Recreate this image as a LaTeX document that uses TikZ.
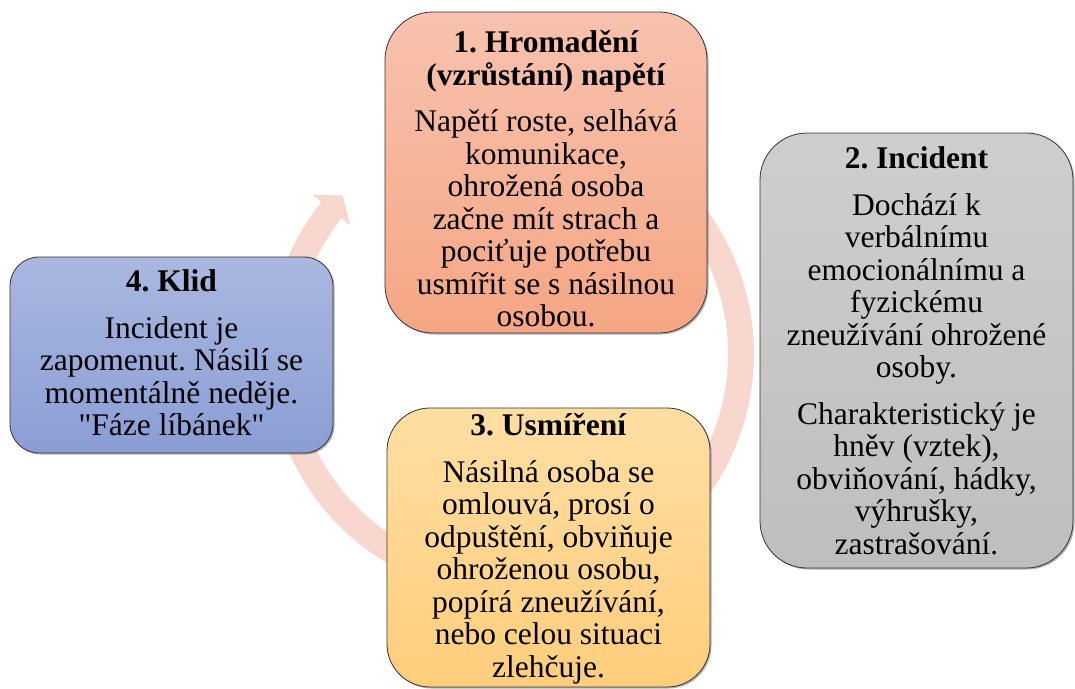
\documentclass[tikz,border=0pt]{standalone}
\usepackage{fontspec}
\setmainfont{Liberation Serif}
\newfontfamily\qfont{Liberation Serif}
\usetikzlibrary{shadows,calc}
\definecolor{arcpink}{RGB}{248,216,206}
\definecolor{oneTop}{RGB}{248,194,174}
\definecolor{oneBot}{RGB}{245,166,132}
\definecolor{twoTop}{RGB}{206,206,206}
\definecolor{twoBot}{RGB}{190,190,190}
\definecolor{thrTop}{RGB}{255,222,163}
\definecolor{thrBot}{RGB}{255,206,124}
\definecolor{fouTop}{RGB}{170,184,224}
\definecolor{fouBot}{RGB}{138,158,213}
\frenchspacing
\begin{document}
\begin{tikzpicture}[x=1pt,y=-1pt,
  box/.style={rectangle, draw=black!80, line width=0.8pt, inner sep=0pt,
    drop shadow={shadow xshift=1.5pt, shadow yshift=-1.5pt, opacity=0.5, fill=black!60}},
  txt/.style={anchor=north, inner sep=0pt, align=center,
    font=\fontsize{31.5}{32.5}\selectfont},
  band/.style={draw=arcpink, line width=26pt}]
\useasboundingbox (0,0) rectangle (1075,688);
\coordinate (c) at (511,354);
% cycle arrows
\draw[band] ($(c)+(-45:230)$) arc[start angle=-45, end angle=60, radius=230];
\draw[band] ($(c)+(110:230)$) arc[start angle=110, end angle=219.5, radius=230];
\fill[arcpink] ($(c)+(218.7:255)$) -- ($(c)+(223.3:231)$) -- ($(c)+(218.7:206)$) -- cycle;
% boxes
\node[box, rounded corners=48pt, minimum width=322pt, minimum height=321pt,
  top color=oneTop, bottom color=oneBot] (b1) at (546,172.5) {};
\node[box, rounded corners=47pt, minimum width=313pt, minimum height=435pt,
  top color=twoTop, bottom color=twoBot] (b2) at (916.5,350.5) {};
\node[box, rounded corners=43pt, minimum width=323pt, minimum height=279pt,
  top color=thrTop, bottom color=thrBot] (b3) at (548.5,547.5) {};
\node[box, rounded corners=29pt, minimum width=323pt, minimum height=196pt,
  top color=fouTop, bottom color=fouBot] (b4) at (171.5,355) {};
% texts
\node[txt] (t1) at ($(b1.north)+(0,17)$) {\rule{0pt}{24pt}\textbf{1. Hromadění}\\
  \textbf{(vzrůstání) napětí}\\[14pt]
  Napětí roste, selhává\\ komunikace,\\ ohrožená osoba\\ začne mít strach a\\
  pociťuje potřebu\\ usmířit se s násilnou\\ osobou.};
\node[txt] (t2) at ($(b2.north)+(0,12)$) {\rule{0pt}{24pt}\textbf{2. Incident}\\[14pt]
  Dochází k\\ verbálnímu\\ emocionálnímu a\\ fyzickému\\ zneužívání ohrožené\\ osoby.\\[14pt]
  Charakteristický je\\ hněv (vztek),\\ obviňování, hádky,\\ výhrušky,\\ zastrašování.};
\node[txt] (t3) at ($(b3.north)+(0,4)$) {\rule{0pt}{24pt}\textbf{3. Usmíření}\\[14pt]
  Násilná osoba se\\ omlouvá, prosí o\\ odpuštění, obviňuje\\ ohroženou osobu,\\
  popírá zneužívání,\\ nebo celou situaci\\ zlehčuje.};
\node[txt] (t4) at ($(b4.north)+(0,11)$) {\rule{0pt}{24pt}\textbf{4. Klid}\\[14pt]
  Incident je\\ zapomenut. Násilí se\\ momentálně neděje.\\ {\qfont"Fáze líbánek"}};
\end{tikzpicture}
\end{document}
